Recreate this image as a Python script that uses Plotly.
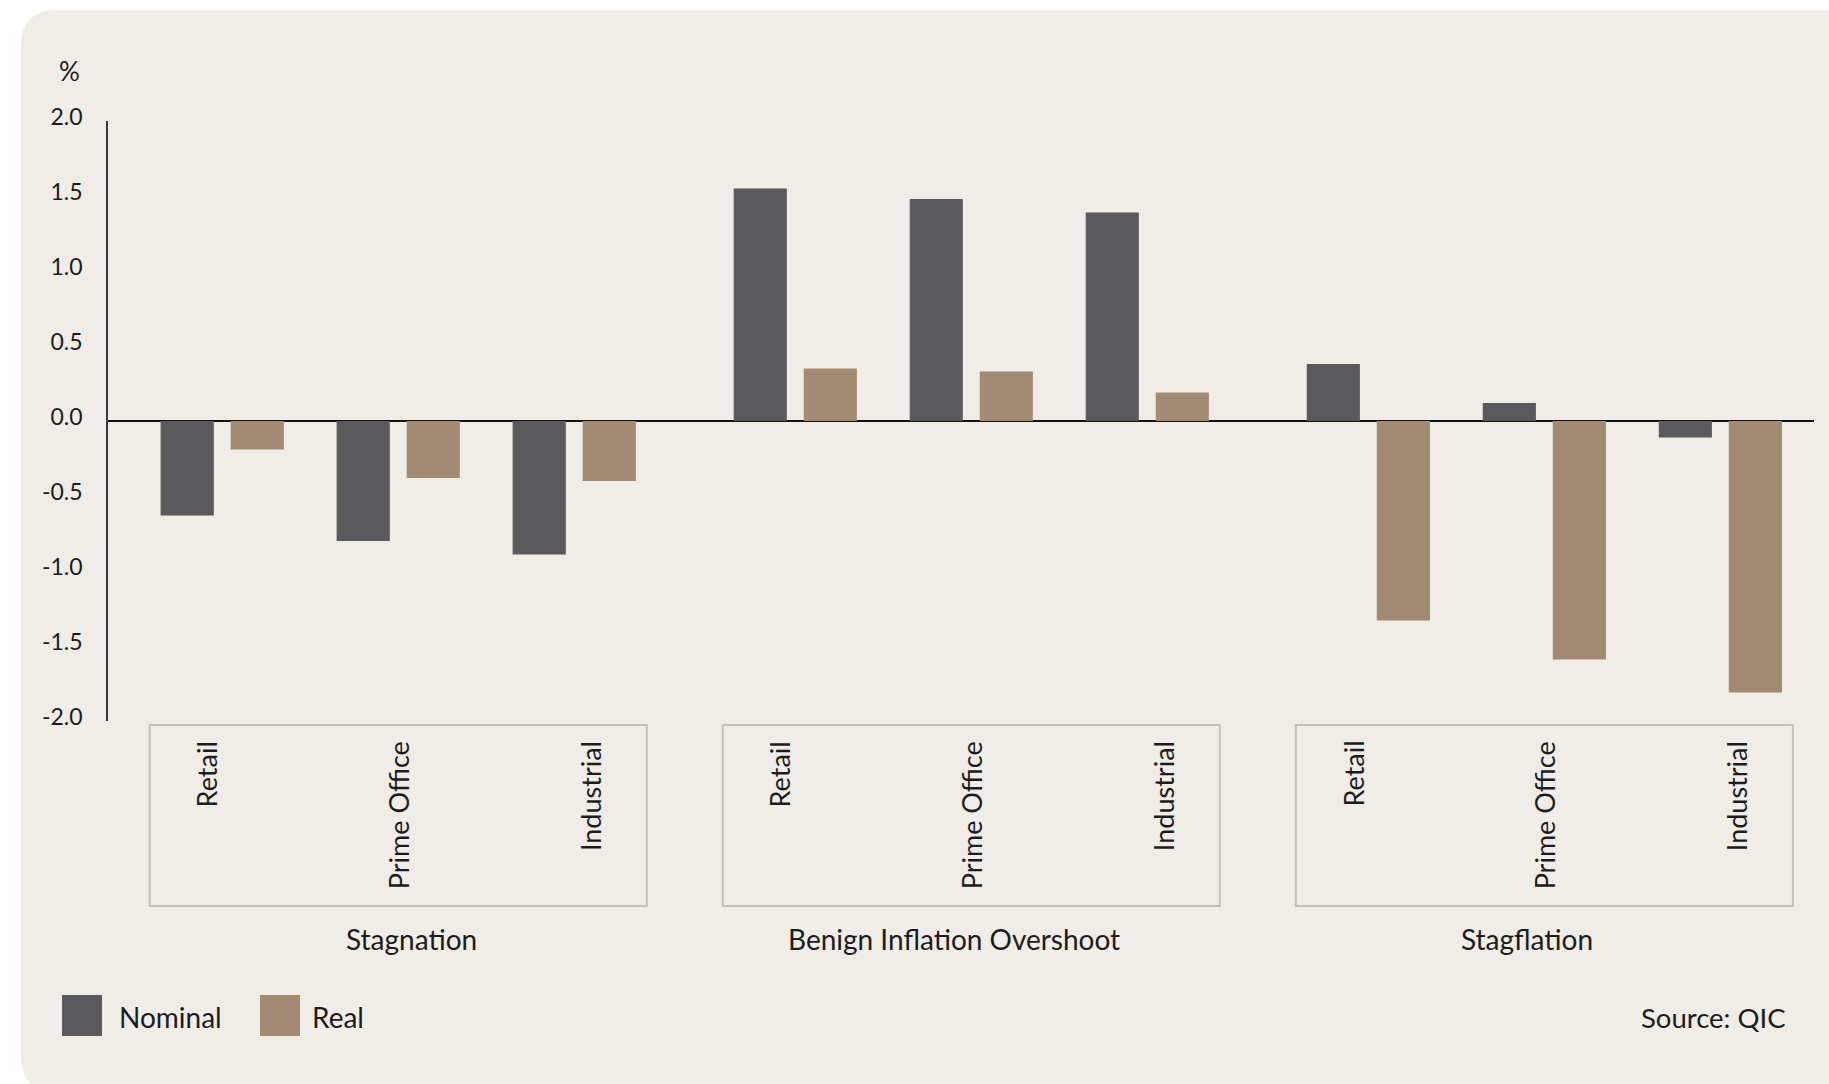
import plotly.graph_objects as go

# ---- data -------------------------------------------------------------
scenarios = ["Stagnation", "Benign Inflation Overshoot", "Stagflation"]
sectors = ["Retail", "Prime Office", "Industrial"]
nominal = [-0.63, -0.80, -0.89, 1.55, 1.48, 1.39, 0.38, 0.12, -0.11]
real = [-0.19, -0.38, -0.40, 0.35, 0.33, 0.19, -1.33, -1.59, -1.81]
y_ticks = [2.0, 1.5, 1.0, 0.5, 0.0, -0.5, -1.0, -1.5, -2.0]
y_tick_text = ["2.0", "1.5", "1.0", "0.5", "0.0", "-0.5", "-1.0", "-1.5", "-2.0"]
series_names = ["Nominal", "Real"]
source_note = "Source: QIC"
unit_label = "%"

# ---- styling / geometry ----------------------------------------------
W, H = 1829, 1084
M_L, M_R, M_T, M_B = 108, 15, 121, 363
PLOT_W = W - M_L - M_R
PLOT_H = H - M_T - M_B

FONT = "Lato, 'Open Sans', sans-serif"
TEXT_COL = "#1c1c1c"
PANEL_COL = "#f0ede8"
NOMINAL_COL = "#5a5a5c"
REAL_COL = "#a28b72"
BOX_COL = "#c3c0bc"

GROUP_GAP = 0.256          # extra spacing between scenario groups (category units)
BAR_W = 0.302
OFF_NOMINAL = -0.350
OFF_REAL = 0.048
LABEL_SPREAD = 1.09        # sector label distance from group centre
BOX_HALF = 1.412           # half width of each scenario box
GROUP_LABEL_NUDGE = [0.075, -0.10, -0.10]


def px_x(p):
    return (p - M_L) / PLOT_W


def px_y(p):
    return (H - M_B - p) / PLOT_H


# category positions: three sectors per scenario with a gap between scenarios
x_pos = []
for g in range(len(scenarios)):
    for i in range(len(sectors)):
        x_pos.append(g * (len(sectors) + GROUP_GAP) + i)
group_centres = [g * (len(sectors) + GROUP_GAP) + 1 for g in range(len(scenarios))]

fig = go.Figure()
fig.add_trace(go.Bar(x=x_pos, y=nominal, name=series_names[0], width=BAR_W,
                     offset=OFF_NOMINAL, marker=dict(color=NOMINAL_COL, line_width=0),
                     showlegend=False))
fig.add_trace(go.Bar(x=x_pos, y=real, name=series_names[1], width=BAR_W,
                     offset=OFF_REAL, marker=dict(color=REAL_COL, line_width=0),
                     showlegend=False))

shapes = []
# rounded background panel (left corners rounded, runs off the right/bottom edge)
r = 36
x0, y0, x1, y1 = 21, 10, W + 20, 1092
path = (
    f"M {px_x(x0 + r)},{px_y(y0)} L {px_x(x1)},{px_y(y0)} L {px_x(x1)},{px_y(y1)} "
    f"L {px_x(x0 + r)},{px_y(y1)} Q {px_x(x0)},{px_y(y1)} {px_x(x0)},{px_y(y1 - r)} "
    f"L {px_x(x0)},{px_y(y0 + r)} Q {px_x(x0)},{px_y(y0)} {px_x(x0 + r)},{px_y(y0)} Z"
)
shapes.append(dict(type="path", path=path, xref="paper", yref="paper",
                   fillcolor=PANEL_COL, line_width=0, layer="below"))

annotations = []
for g, c in enumerate(group_centres):
    shapes.append(dict(type="rect", xref="x", yref="paper",
                       x0=c - BOX_HALF, x1=c + BOX_HALF,
                       y0=px_y(906), y1=px_y(725),
                       line=dict(color=BOX_COL, width=2), fillcolor="rgba(0,0,0,0)"))
    for i, s in enumerate(sectors):
        annotations.append(dict(x=c + (i - 1) * LABEL_SPREAD, y=px_y(739), xref="x", yref="paper",
                                text=s, textangle=-90, showarrow=False,
                                xanchor="center", yanchor="top",
                                font=dict(family=FONT, size=27, color=TEXT_COL)))
    annotations.append(dict(x=c + GROUP_LABEL_NUDGE[g], y=px_y(939), xref="x", yref="paper",
                            text=scenarios[g], showarrow=False,
                            xanchor="center", yanchor="middle",
                            font=dict(family=FONT, size=28, color=TEXT_COL)))

# unit label above the value axis
annotations.append(dict(x=px_x(82), y=px_y(71), xref="paper", yref="paper",
                        text=unit_label, showarrow=False, xanchor="right", yanchor="middle",
                        font=dict(family=FONT, size=26, color=TEXT_COL)))

# legend swatches and labels
legend_items = [(series_names[0], NOMINAL_COL, 62, 117), (series_names[1], REAL_COL, 260, 310)]
for name, col, sx, tx in legend_items:
    shapes.append(dict(type="rect", xref="paper", yref="paper",
                       x0=px_x(sx), x1=px_x(sx + 40), y0=px_y(1036), y1=px_y(995),
                       fillcolor=col, line_width=0))
    annotations.append(dict(x=px_x(tx), y=px_y(1017), xref="paper", yref="paper",
                            text=name, showarrow=False, xanchor="left", yanchor="middle",
                            font=dict(family=FONT, size=28, color=TEXT_COL)))

annotations.append(dict(x=px_x(1788), y=px_y(1017), xref="paper", yref="paper",
                        text=source_note, showarrow=False, xanchor="right", yanchor="middle",
                        font=dict(family=FONT, size=27.5, color=TEXT_COL)))

last = x_pos[-1]
fig.update_layout(
    width=W, height=H,
    margin=dict(l=M_L, r=M_R, t=M_T, b=M_B, pad=0),
    paper_bgcolor="white",
    plot_bgcolor="rgba(0,0,0,0)",
    barmode="overlay",
    showlegend=False,
    shapes=shapes,
    annotations=annotations,
    xaxis=dict(range=[-0.649, last + 0.532], showticklabels=False, showgrid=False,
               zeroline=False, showline=False, ticks=""),
    yaxis=dict(range=[-2, 2], tickvals=y_ticks, ticktext=y_tick_text,
               showgrid=False, zeroline=True, zerolinecolor="#111111", zerolinewidth=1.5,
               showline=True, linecolor="#3a3a3a", linewidth=1.5, ticks="",
               ticklabelstandoff=19, ticklabelshift=-4,
               tickfont=dict(family=FONT, size=23, color=TEXT_COL)),
)

fig.write_html("out.html")
